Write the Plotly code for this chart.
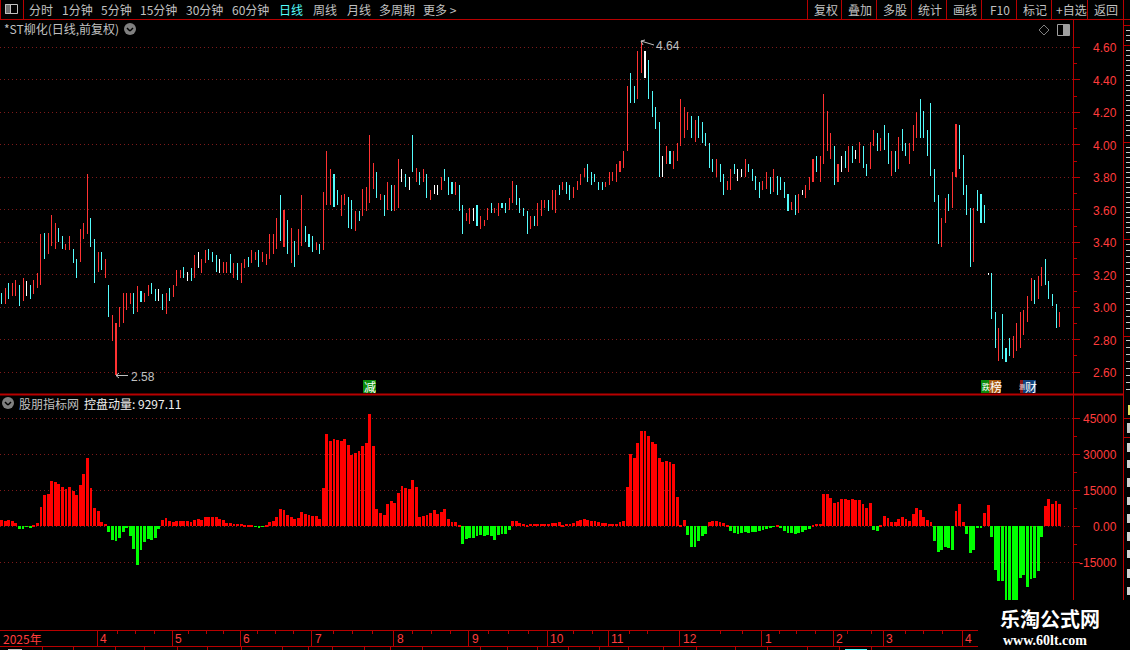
import plotly.graph_objects as go

W = 1130
H = 650

# daily bars, high / low / colour (r up, c down, w flat)
highs = [
    3.09, 3.12, 3.15, 3.15, 3.17, 3.14, 3.18, 3.16, 3.14, 3.17,
    3.21, 3.45, 3.46, 3.46, 3.57, 3.52, 3.49, 3.44, 3.39, 3.44,
    3.36, 3.30, 3.48, 3.52, 3.82, 3.55, 3.42, 3.34, 3.34, 3.30,
    3.14, 2.95, 2.90, 3.00, 3.09, 3.09, 3.09, 3.09, 3.13, 3.10,
    3.09, 3.14, 3.15, 3.11, 3.11, 3.08, 3.09, 3.12, 3.14, 3.23,
    3.23, 3.25, 3.22, 3.24, 3.32, 3.34, 3.30, 3.35, 3.36, 3.34,
    3.32, 3.30, 3.28, 3.28, 3.33, 3.27, 3.27, 3.27, 3.30, 3.31,
    3.35, 3.34, 3.35, 3.34, 3.33, 3.45, 3.45, 3.55, 3.69, 3.60,
    3.54, 3.49, 3.41, 3.48, 3.69, 3.50, 3.45, 3.44, 3.40, 3.39,
    3.71, 3.96, 3.85, 3.82, 3.72, 3.69, 3.70, 3.68, 3.66, 3.59,
    3.59, 3.73, 3.74, 4.06, 3.89, 3.83, 3.70, 3.69, 3.77, 3.75,
    3.75, 3.91, 3.85, 3.82, 3.80, 4.06, 3.86, 3.83, 3.85, 3.82,
    3.72, 3.75, 3.75, 3.80, 3.85, 3.80, 3.77, 3.77, 3.75, 3.63,
    3.58, 3.61, 3.61, 3.63, 3.56, 3.54, 3.61, 3.64, 3.61, 3.64,
    3.64, 3.64, 3.67, 3.78, 3.75, 3.67, 3.61, 3.59, 3.56, 3.56,
    3.64, 3.66, 3.66, 3.66, 3.72, 3.72, 3.75, 3.77, 3.77, 3.75,
    3.74, 3.78, 3.82, 3.86, 3.88, 3.83, 3.82, 3.77, 3.77, 3.77,
    3.83, 3.83, 3.88, 3.90, 3.96, 4.36, 4.44, 4.36, 4.58, 4.64,
    4.58, 4.52, 4.33, 4.23, 4.14, 3.93, 3.99, 3.96, 3.96, 4.01,
    4.28, 4.23, 4.20, 4.18, 4.15, 4.18, 4.14, 4.07, 4.01, 3.91,
    3.91, 3.88, 3.82, 3.78, 3.85, 3.88, 3.85, 3.85, 3.91, 3.88,
    3.85, 3.81, 3.77, 3.78, 3.83, 3.80, 3.85, 3.81, 3.80, 3.77,
    3.70, 3.65, 3.69, 3.70, 3.72, 3.75, 3.80, 3.91, 3.93, 3.93,
    4.31, 4.21, 4.07, 3.99, 3.88, 3.93, 3.96, 3.99, 3.99, 3.97,
    4.02, 3.99, 3.88, 4.02, 4.09, 4.07, 4.04, 4.12, 4.07, 3.96,
    3.96, 4.05, 4.10, 4.01, 4.01, 4.12, 4.20, 4.28, 4.21, 4.09,
    4.26, 3.85, 3.69, 3.55, 3.67, 3.70, 3.83, 4.13, 4.12, 3.94,
    3.75, 3.61, 3.61, 3.72, 3.70, 3.63, 3.21, 3.21, 2.97, 2.87,
    2.96, 2.75, 2.81, 2.82, 2.90, 2.97, 2.98, 3.07, 3.18, 3.17,
    3.19, 3.25, 3.30, 3.16, 3.08, 3.02, 2.97,
]
lows = [
    3.02, 3.02, 3.05, 3.07, 3.07, 3.01, 3.04, 3.07, 3.05, 3.08,
    3.12, 3.14, 3.30, 3.33, 3.38, 3.36, 3.40, 3.36, 3.35, 3.35,
    3.27, 3.18, 3.28, 3.42, 3.45, 3.37, 3.15, 3.22, 3.23, 3.18,
    2.94, 2.79, 2.58, 2.88, 2.90, 2.98, 3.02, 2.96, 2.97, 3.03,
    3.03, 3.07, 3.08, 3.04, 3.04, 2.98, 2.96, 3.04, 3.06, 3.13,
    3.18, 3.18, 3.16, 3.16, 3.18, 3.24, 3.21, 3.27, 3.29, 3.28,
    3.22, 3.21, 3.21, 3.21, 3.21, 3.18, 3.17, 3.15, 3.24, 3.25,
    3.27, 3.29, 3.25, 3.28, 3.26, 3.30, 3.33, 3.36, 3.41, 3.37,
    3.33, 3.27, 3.25, 3.32, 3.38, 3.40, 3.37, 3.34, 3.35, 3.33,
    3.35, 3.63, 3.63, 3.62, 3.63, 3.56, 3.63, 3.49, 3.48, 3.47,
    3.53, 3.56, 3.59, 3.64, 3.73, 3.67, 3.66, 3.56, 3.60, 3.59,
    3.59, 3.61, 3.77, 3.74, 3.72, 3.83, 3.77, 3.75, 3.77, 3.67,
    3.66, 3.70, 3.69, 3.72, 3.78, 3.69, 3.70, 3.69, 3.59, 3.45,
    3.53, 3.51, 3.53, 3.50, 3.48, 3.50, 3.54, 3.58, 3.58, 3.56,
    3.61, 3.58, 3.60, 3.64, 3.63, 3.58, 3.56, 3.45, 3.48, 3.50,
    3.50, 3.56, 3.61, 3.59, 3.60, 3.58, 3.69, 3.72, 3.70, 3.66,
    3.67, 3.72, 3.75, 3.80, 3.77, 3.75, 3.77, 3.72, 3.72, 3.74,
    3.75, 3.78, 3.77, 3.83, 3.86, 3.96, 4.26, 4.26, 4.28, 4.44,
    4.41, 4.28, 4.17, 4.10, 3.80, 3.80, 3.88, 3.88, 3.85, 3.90,
    3.99, 4.04, 4.09, 4.04, 4.02, 4.04, 4.01, 3.99, 3.86, 3.83,
    3.80, 3.77, 3.69, 3.72, 3.72, 3.82, 3.78, 3.80, 3.80, 3.83,
    3.78, 3.72, 3.67, 3.72, 3.73, 3.70, 3.71, 3.69, 3.72, 3.67,
    3.59, 3.60, 3.57, 3.58, 3.69, 3.67, 3.72, 3.77, 3.83, 3.77,
    3.88, 3.96, 3.91, 3.75, 3.77, 3.83, 3.86, 3.83, 3.89, 3.91,
    3.89, 3.86, 3.81, 3.85, 3.99, 3.96, 3.96, 3.97, 3.88, 3.81,
    3.83, 3.85, 3.96, 3.93, 3.88, 3.96, 4.04, 4.04, 4.04, 3.93,
    3.81, 3.65, 3.39, 3.37, 3.52, 3.59, 3.61, 3.80, 3.85, 3.69,
    3.57, 3.25, 3.28, 3.59, 3.52, 3.52, 3.20, 2.93, 2.75, 2.67,
    2.68, 2.66, 2.70, 2.69, 2.73, 2.75, 2.83, 2.91, 3.04, 3.02,
    3.05, 3.13, 3.14, 3.05, 3.01, 2.87, 2.88,
]
kinds = "".join([
    "crcrrcrwcr", "rrcrrrccrr", "ccrrrccrcr", "crrrrrrcrc", "rrccwcrcrr",
    "rcwcrwrrcc", "cwrrcrcrrc", "rrcrrrrrcr", "crcrrcccrc", "rrrccrrccr",
    "crrrrcrcrc", "rrwcwcrcrc", "rwwrcccrcc", "rrwcrrrcrr", "ccrrccccrc",
    "rrrcrrcrcc", "rrrrcccccr", "rrrrrrccrr", "wccccwrcrr", "rrrcrccccc",
    "rccrrcwwrc", "cccrrcrccc", "crcrwrrrcr", "rrrcrwcrcw", "rccrrcrccr",
    "crccrrrccc", "cccrrcrrcc", "ccrcccwccr", "cccrrrrrrc", "rrccccr",
])

# 控盘动量 column per day
momentum = [
    2640, 2220, 2640, 2220, 1390, -1110, -1110, -280, -700, 560,
    1390, 8060, 13070, 13480, 18900, 18490, 17650, 16400, 15570, 16400,
    14730, 13070, 17240, 21820, 28500, 15990, 7650, 6390, 1810, 970,
    -2360, -5700, -6120, -4870, -2360, -700, -4030, -9450, -16120, -9870,
    -6530, -5280, -5700, -4870, -1110, 2640, 3480, 2220, 1810, 2220,
    2220, 2220, 2220, 1810, 2640, 3060, 2640, 3890, 3890, 3890,
    3890, 3060, 2640, 1390, 1390, 970, 970, 970, 560, 560,
    560, -280, -700, -280, 560, 1810, 2220, 3890, 7230, 6810,
    4730, 3890, 3060, 3480, 5980, 5140, 4730, 4310, 4310, 3060,
    15990, 38500, 35580, 36420, 36000, 35580, 36420, 33920, 29750, 30580,
    31410, 33500, 34750, 46840, 33500, 7230, 5560, 4730, 9310, 10560,
    9730, 13900, 16820, 15990, 15570, 19320, 16400, 3890, 4310, 4730,
    5560, 6810, 5140, 5980, 7230, 3060, 1810, 1810, 560, -7370,
    -5280, -4870, -4870, -4030, -3610, -4030, -3610, -4030, -5700, -3610,
    -3200, -3200, -1530, 2220, 2220, 1390, 970, 560, 970, 970,
    970, 970, 970, 970, 1390, 1390, 1810, 560, 970, 970,
    1390, 2220, 2640, 3060, 2640, 2220, 2220, 1810, 1390, 1390,
    970, 970, 970, 1810, 2220, 16400, 30160, 28500, 34750, 39750,
    39750, 37670, 35170, 34330, 28500, 26830, 27240, 26830, 25990, 12230,
    560, 2640, -3610, -8620, -8620, -6120, -4030, -3200, 1810, 2220,
    2220, 1810, 1390, 560, -1950, -2780, -3200, -2780, -2360, -2780,
    -2360, -2360, -1950, -1530, -1110, -700, -280, 560, -700, -1950,
    -2780, -2780, -3200, -2780, -2360, -1530, -1110, 560, 970, 970,
    13480, 13480, 11820, 9730, 10150, 11400, 11400, 10980, 11400, 10980,
    10980, 9310, 7650, 9730, -1530, -1950, 560, 4310, 3480, 1810,
    1810, 3060, 3890, 3060, 2220, 5140, 7650, 6810, 3890, 2640,
    1810, -6120, -10700, -9870, -8620, -9040, -9870, 6390, 9310, 1810,
    -3200, -11120, -9870, -700, -700, 5560, 8900, -4450, -18210, -22800,
    -22800, -31000, -31000, -31000, -31000, -21550, -20290, -25300, -21960, -21550,
    -18630, -4450, 8480, 11400, 9310, 10560, 9297.11,
]

price_ticks = [4.6, 4.4, 4.2, 4.0, 3.8, 3.6, 3.4, 3.2, 3.0, 2.8, 2.6]
price_minor = [4.5, 4.3, 4.1, 3.9, 3.7, 3.5, 3.3, 3.1, 2.9, 2.7]
mom_ticks = [45000, 30000, 15000, 0, -15000]
mom_labels = ["45000", "30000", "15000", "0.00", "-15000"]
mom_minor = [37500, 22500, 7500, -7500]
month_days = [27, 48, 67, 87, 110, 131, 153, 170, 190, 213, 233, 247, 269]
month_labels = ["4", "5", "6", "7", "8", "9", "10", "11", "12", "1", "2", "3", "4"]

FRAME = "#b80000"
GRID = "#7e1a1a"
LABEL = "#ff3c3c"
GRAY = "#c0c0c0"
CJK = "Noto Sans CJK SC"
LATIN = "Liberation Sans"

colors = {"r": "#ff3232", "c": "#54fcfc", "w": "#ffffff"}
x_days = list(range(len(highs)))

fig = go.Figure()
# candles are only 1px wide in the original, bars snap to whole pixels
fig.add_trace(go.Bar(
    x=x_days,
    y=[round(h - l, 2) for h, l in zip(highs, lows)],
    base=lows,
    width=0.02,
    marker=dict(color=[colors[k] for k in kinds], line_width=0),
    xaxis="x",
    yaxis="y",
    showlegend=False,
))
fig.add_trace(go.Bar(
    x=x_days,
    y=momentum,
    width=0.8,
    marker=dict(color=["#ff0000" if v > 0 else "#00ff00" for v in momentum], line_width=0),
    xaxis="x2",
    yaxis="y2",
    showlegend=False,
))

shapes = []
annotations = []


def line(x0, y0, x1, y1, color=FRAME, width=1):
    shapes.append(dict(type="line", xref="paper", yref="paper",
                       x0=x0 / W, y0=1 - y0 / H, x1=x1 / W, y1=1 - y1 / H,
                       line=dict(color=color, width=width)))


def box(x0, y0, x1, y1, fill, color=None):
    shapes.append(dict(type="rect", xref="paper", yref="paper",
                       x0=x0 / W, y0=1 - y0 / H, x1=x1 / W, y1=1 - y1 / H,
                       fillcolor=fill, line=dict(color=color or fill, width=1 if color else 0)))


def label(x, y, text, color=GRAY, size=12, family=CJK, anchor="left", **kwargs):
    annotations.append(dict(xref="paper", yref="paper", x=x / W, y=1 - y / H, text=text,
                            showarrow=False, xanchor=anchor, yanchor="middle", borderpad=0,
                            font=dict(color=color, size=size, family=family), **kwargs))


# watermark patch hides the bottom right corner, has to go in before the rest
box(978, 600, 1130, 650, "#000000")

# toolbar
line(0, 19.5, 1130, 19.5)
line(0.5, 0, 0.5, 19.5)
line(23.5, 0, 23.5, 19.5)
for sep in [807.5, 841.5, 876.5, 911.5, 946.5, 981.5, 1016.5, 1051.5, 1087.5, 1123.5]:
    line(sep, 0, sep, 19.5)
box(5.5, 4.5, 17.5, 13.5, "#000000", GRAY)
box(5.5, 4.5, 10.5, 13.5, "#707070", GRAY)

toolbar_left = [(28, "分时"), (61, "1分钟"), (100, "5分钟"), (139, "15分钟"), (185, "30分钟"),
                (231, "60分钟"), (312, "周线"), (346, "月线"), (378, "多周期"), (422, "更多 >")]
for x, text in toolbar_left:
    label(x, 9.5, text)
label(278, 9.5, "日线", color="#54fcfc")
toolbar_right = [(813, "复权"), (847, "叠加"), (882, "多股"), (917, "统计"), (952, "画线"),
                 (989, "F10"), (1022, "标记"), (1055, "+自选"), (1093, "返回")]
for x, text in toolbar_right:
    label(x, 9.5, text)

# title rows
label(3, 29, "*ST柳化(日线,前复权)")
for cx, cy in [(130, 29), (8, 403)]:
    shapes.append(dict(type="circle", xref="paper", yref="paper",
                       x0=(cx - 6) / W, x1=(cx + 6) / W, y0=1 - (cy + 6) / H, y1=1 - (cy - 6) / H,
                       fillcolor="#808080", line_width=0))
    line(cx - 3, cy - 1, cx, cy + 2, "#000000", 1.5)
    line(cx, cy + 2, cx + 3, cy - 1, "#000000", 1.5)
label(18, 403, "股朋指标网")
label(83, 403, "控盘动量: 9297.11", color="#f0f0f0")

# small icons top right of the price pane
line(1039, 30, 1044, 25, "#808080")
line(1044, 25, 1049, 30, "#808080")
line(1049, 30, 1044, 35, "#808080")
line(1044, 35, 1039, 30, "#808080")
box(1057.5, 24.5, 1069.5, 35.5, "#000000", "#a0a0a0")
box(1063.5, 24.5, 1068.5, 35.5, "#a0a0a0", "#a0a0a0")

# high / low markers
line(116, 375.5, 128, 375.5, GRAY)
line(116, 375.5, 119, 373, GRAY)
line(116, 375.5, 119, 378, GRAY)
label(130, 376.5, "2.58", size=12, family=LATIN)
line(641, 41, 654, 45, GRAY)
line(641, 41, 645, 40, GRAY)
line(641, 41, 643, 45, GRAY)
label(655, 46, "4.64", size=12, family=LATIN)

# event tags
box(363, 380, 376, 393, "#0a8a0a")
label(369.5, 386.5, "减", color="#ffffff", anchor="center")
box(981, 380, 989, 393, "#0a8a0a")
box(989, 380, 1001, 393, "#a85a10")
label(981, 386.5, "跌", color="#ffffff", size=8)
label(989, 386.5, "榜", color="#ffffff")
box(1020, 380, 1023, 393, "#8a1414")
box(1023, 380, 1036, 393, "#10407a")
label(1018, 386.5, "测", color="#ffffff", size=6)
label(1024, 386.5, "财", color="#ffffff")

# frame
line(0, 394.5, 1123, 394.5, FRAME, 2)
line(1123.5, 19.5, 1123.5, 600)
line(0, 646.5, 978, 646.5)

# clipped stock list on the far right edge
for y in [25.5, 45.5, 142.5, 239.5, 336.5, 418.5, 437.5]:
    line(1124, y, 1130, y)
for y in list(range(30, 45, 5)) + list(range(50, 140, 5)) + list(range(147, 237, 5)) + list(range(244, 334, 6)) + list(range(340, 392, 7)):
    line(1126, y + 0.5, 1130, y + 0.5, "#c8c8c8")
for y0, y1 in [(443, 452), (460, 468), (478, 487), (497, 505), (514, 523), (532, 541), (550, 558), (569, 578), (587, 595)]:
    box(1127, y0, 1130, y1, "#d0d0d0")
box(1128, 405, 1130, 415, "#e0e060")
box(1127, 423, 1130, 433, "#c8c8c8")

# leftover ticks from the status row under the date axis
status_ticks = [42, 73, 115, 144, 177, 207, 241, 282, 308, 332, 364, 390, 422, 480, 507, 537,
                568, 599, 628, 663, 696, 735, 767, 807, 839, 871]
for x in status_ticks:
    line(x + 0.5, 647, x + 0.5, 650)
box(845, 649, 867, 650, "#54fcfc")
box(8, 649, 22, 650, "#c0c0c0")

# axis labels, right aligned like the original
for tick in price_ticks:
    annotations.append(dict(xref="paper", yref="y", x=1118 / W, y=tick, text=f"{tick:.2f}", yshift=-1,
                            showarrow=False, xanchor="right", yanchor="middle", borderpad=0,
                            font=dict(color=LABEL, size=12, family=LATIN)))
for tick, text in zip(mom_ticks, mom_labels):
    annotations.append(dict(xref="paper", yref="y2", x=1118 / W, y=tick, text=text, yshift=-1,
                            showarrow=False, xanchor="right", yanchor="middle", borderpad=0,
                            font=dict(color=LABEL, size=12, family=LATIN)))

# date row
label(2, 638.5, "2025年", color=LABEL, size=12)
for day, text in zip(month_days, month_labels):
    annotations.append(dict(xref="x2", yref="paper", x=day - 0.3, y=1 - 638.5 / H, text=text, xshift=2,
                            showarrow=False, xanchor="left", yanchor="middle", borderpad=0,
                            font=dict(color=LABEL, size=12, family=LATIN)))

# watermark
label(999, 618.5, "乐淘公式网", color="#ffffff", size=20, family="Noto Sans CJK SC")
annotations[-1]["font"]["weight"] = "bold"
label(1002, 640, "www.60lt.com", color="#ffffff", size=14, family="Liberation Serif")
annotations[-1]["font"]["weight"] = "bold"

x_range = [-0.45, 299.6]
x_domain = [0, 1072.5 / W]
date_minor = [32.3, 37.5, 42.7, 52.4, 57.2, 62, 71.7, 76.5, 81.6, 92.8, 98.2, 103.8,
              115, 120.2, 125.5, 136.2, 141.8, 147.3, 160, 165.3, 175.6, 180.7, 201, 207.2,
              217.5, 222.5, 227.7, 236.7, 243.5, 252.9, 258, 263.2]

fig.update_layout(
    width=W,
    height=H,
    margin=dict(l=0, r=0, t=0, b=0),
    paper_bgcolor="#000000",
    plot_bgcolor="#000000",
    barmode="overlay",
    bargap=0,
    showlegend=False,
    shapes=shapes,
    annotations=annotations,
    xaxis=dict(domain=x_domain, range=x_range, anchor="y", showgrid=False, zeroline=False,
               showticklabels=False, ticks=""),
    yaxis=dict(domain=[1 - 394 / H, 1 - 20 / H], range=[2.466, 4.768], side="right", anchor="x",
               tickvals=price_ticks, showticklabels=False, ticks="outside", ticklen=6, tickcolor=FRAME,
               showline=True, linecolor=FRAME, linewidth=1, zeroline=False,
               showgrid=True, gridcolor=GRID, griddash="1px,3px", gridwidth=1,
               minor=dict(tickvals=price_minor, ticks="outside", ticklen=3, tickcolor=FRAME, showgrid=False)),
    xaxis2=dict(domain=x_domain, range=x_range, anchor="y2", showgrid=False, zeroline=False,
                showline=True, linecolor=FRAME, linewidth=1,
                tickvals=[d - 0.3 for d in month_days], showticklabels=False,
                ticks="outside", ticklen=16, tickcolor=FRAME,
                minor=dict(tickvals=date_minor, ticks="outside", ticklen=3, tickcolor=FRAME, showgrid=False)),
    yaxis2=dict(domain=[1 - 630 / H, 1 - 395 / H], range=[-43208, 54708], side="right", anchor="x2",
                tickvals=mom_ticks, showticklabels=False, ticks="outside", ticklen=6, tickcolor=FRAME,
                showline=True, linecolor=FRAME, linewidth=1, zeroline=False,
                showgrid=True, gridcolor=GRID, griddash="1px,3px", gridwidth=1,
                minor=dict(tickvals=mom_minor, ticks="outside", ticklen=3, tickcolor=FRAME, showgrid=False)),
)

# page has to sit flush in the window, no default body margin
fig.write_html("out.html", config={"displayModeBar": False},
               post_script="document.body.style.margin='0';document.documentElement.style.background='#000'")
